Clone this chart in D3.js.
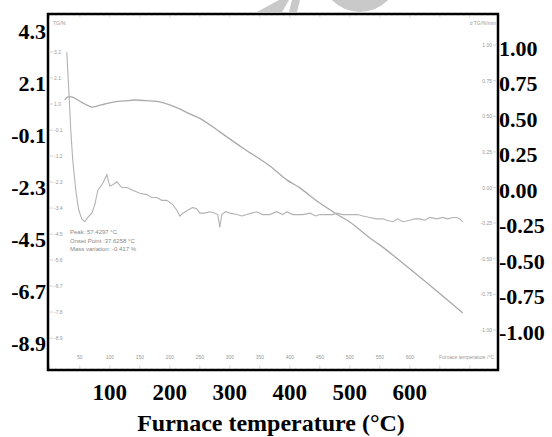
<!DOCTYPE html>
<html>
<head>
<meta charset="utf-8">
<script src="https://cdn.jsdelivr.net/npm/d3@7"></script>
<style>
  body { margin: 0; background: #fff; }
  svg { display: block; }
  .big { font-family: "Liberation Serif", "Times New Roman", serif; font-weight: bold; font-size: 22px; fill: #000; }
  .tiny { font-family: "Liberation Sans", Arial, sans-serif; font-size: 5px; fill: #999; }
</style>
</head>
<body>
<svg></svg>
<script>
var width = 552;
var height = 437;

// outer (redrawn) tick labels
var bottomTicks = [100, 200, 300, 400, 500, 600];
var leftTicks = [4.3, 2.1, -0.1, -2.3, -4.5, -6.7, -8.9];
var rightTicks = [1.00, 0.75, 0.50, 0.25, 0.00, -0.25, -0.50, -0.75, -1.00];

// inner instrument plot tick labels
var innerXTicks = [50, 100, 150, 200, 250, 300, 350, 400, 450, 500, 550, 600];
var innerLeftTicks = [3.2, 2.1, 1.0, -0.1, -1.2, -2.3, -3.4, -4.5, -5.6, -6.7, -7.8, -8.9];
var innerRightTicks = [1.00, 0.75, 0.50, 0.25, 0.00, -0.25, -0.50, -0.75, -1.00];

// TG curve (mass %)
var tgTemp = [25, 30, 36.7, 46.7, 58.3, 70, 80, 91.7, 108.3, 125, 141.7, 166.7, 183.3, 200, 216.7, 233.3, 255,
              283.3, 321.7, 366.7, 395, 416.7, 450, 483.3, 500, 533.3, 550, 616.7, 688.3];
var tgMass = [1.17, 1.30, 1.30, 1.17, 1.00, 0.87, 0.92, 1.00, 1.09, 1.13, 1.17, 1.13, 1.09, 0.96, 0.79, 0.58, 0.32,
              -0.18, -0.86, -1.62, -2.21, -2.55, -3.19, -3.74, -3.99, -4.67, -4.96, -6.32, -7.84];

// dTG curve (%/min)
var dtgTemp = [28.3, 31.7, 35, 38.3, 43.3, 48.3, 53.3, 58.3, 63.3, 70, 75, 80, 88.3, 95, 100, 105, 111.7, 120, 128.3,
               138.3, 150, 161.7, 170, 178.3, 186.7, 195, 205, 211.7, 216.7, 221.7, 230, 238.3, 245, 250, 258.3,
               266.7, 275, 280, 283.3, 286.7, 293.3, 300, 311.7, 320, 328.3, 336.7, 345, 355, 366.7, 378.3, 388.3,
               395, 405, 413.3, 421.7, 433.3, 443.3, 450, 461.7, 471.7, 478.3, 488.3, 496.7, 505, 513.3, 521.7,
               533.3, 545, 555, 561.7, 571.7, 580, 588.3, 600, 608.3, 616.7, 625, 633.3, 645, 655, 663.3, 671.7,
               678.3, 683.3, 688.3];
var dtgRate = [0.95, 0.68, 0.40, 0.19, -0.02, -0.16, -0.22, -0.24, -0.21, -0.18, -0.12, -0.02, 0.03, 0.09, 0.01, 0.02,
               0.04, 0.00, 0.00, -0.02, -0.04, -0.05, -0.07, -0.07, -0.09, -0.09, -0.12, -0.16, -0.20, -0.18, -0.16,
               -0.14, -0.15, -0.18, -0.18, -0.17, -0.18, -0.19, -0.28, -0.19, -0.17, -0.18, -0.19, -0.20, -0.19,
               -0.18, -0.17, -0.19, -0.19, -0.17, -0.19, -0.17, -0.19, -0.19, -0.19, -0.18, -0.20, -0.19, -0.19,
               -0.19, -0.18, -0.19, -0.19, -0.19, -0.19, -0.20, -0.21, -0.22, -0.22, -0.23, -0.24, -0.22, -0.24,
               -0.23, -0.22, -0.22, -0.23, -0.21, -0.22, -0.21, -0.22, -0.21, -0.21, -0.22, -0.24];

var notes = ["Peak :57.4297 \u00B0C", "Onset Point :37.6258 \u00B0C", "Mass variation: -0.417 %"];

var frame = {left: 48, top: 14, right: 498, bottom: 370};

var x = d3.scaleLinear().domain([-3, 747]).range([frame.left, frame.right]);
var yLeft = d3.scaleLinear().domain([4.3, -8.9]).range([31, 343]);
var yRight = d3.scaleLinear().domain([1, -1]).range([48, 332]);
var yTG = d3.scaleLinear().domain([3.2, -8.9]).range([52, 338]);
var yDTG = d3.scaleLinear().domain([1, -1]).range([45, 330]);

var svg = d3.select("svg")
              .attr("width", width)
              .attr("height", height);

// watermark shapes at the top
var mark = svg.append("g").attr("fill", "#c9c9c9");
mark.append("path").attr("d", "M257,12 L279,0 L289,0 L282,12 Z");
mark.append("path").attr("d", "M289,12 L292,0 L300,0 L297,12 Z");
mark.append("path")
    .attr("d", d3.arc().innerRadius(0).outerRadius(39).startAngle(Math.PI / 2).endAngle(Math.PI * 1.5)())
    .attr("transform", "translate(360,-27)");

// inner instrument axes (faint)
var inner = svg.append("g").attr("class", "inner");

var minor = d3.range(0, 741, 10);
inner.selectAll(".bt")
    .data(minor)
  .enter().append("line")
    .attr("x1", d => x(d)).attr("x2", d => x(d))
    .attr("y1", d => frame.bottom - (d % 50 === 0 ? 5 : 2))
    .attr("y2", frame.bottom)
    .attr("stroke", "#bbb").attr("stroke-width", 0.6);

inner.selectAll(".tt")
    .data(minor)
  .enter().append("line")
    .attr("x1", d => x(d)).attr("x2", d => x(d))
    .attr("y1", frame.top)
    .attr("y2", d => frame.top + (d % 50 === 0 ? 4 : 2))
    .attr("stroke", "#ccc").attr("stroke-width", 0.6);

inner.selectAll(".xl")
    .data(innerXTicks)
  .enter().append("text")
    .classed("tiny", true)
    .attr("x", d => x(d))
    .attr("y", 359)
    .attr("text-anchor", "middle")
    .text(d => d);

inner.append("text")
    .classed("tiny", true)
    .attr("x", 494).attr("y", 359)
    .attr("text-anchor", "end")
    .text("Furnace temperature /\u00B0C");

inner.selectAll(".yl")
    .data(innerLeftTicks)
  .enter().append("text")
    .classed("tiny", true)
    .attr("x", 54)
    .attr("y", d => yTG(d) + 2)
    .text(d => d.toFixed(1));

inner.selectAll(".ylt")
    .data(innerLeftTicks)
  .enter().append("line")
    .attr("x1", 50).attr("x2", 53)
    .attr("y1", d => yTG(d)).attr("y2", d => yTG(d))
    .attr("stroke", "#bbb").attr("stroke-width", 0.6);

inner.append("text")
    .classed("tiny", true)
    .attr("x", 53).attr("y", 25)
    .text("TG/%");

inner.selectAll(".yr")
    .data(innerRightTicks)
  .enter().append("text")
    .classed("tiny", true)
    .attr("x", 492)
    .attr("y", d => yDTG(d) + 2)
    .attr("text-anchor", "end")
    .text(d => d.toFixed(2));

inner.selectAll(".yrt")
    .data(innerRightTicks)
  .enter().append("line")
    .attr("x1", 493).attr("x2", 496)
    .attr("y1", d => yDTG(d)).attr("y2", d => yDTG(d))
    .attr("stroke", "#bbb").attr("stroke-width", 0.6);

inner.append("text")
    .classed("tiny", true)
    .attr("x", 496).attr("y", 25)
    .attr("text-anchor", "end")
    .text("d TG/%/min");

inner.selectAll(".note")
    .data(notes)
  .enter().append("text")
    .classed("tiny", true)
    .style("font-size", "6px")
    .style("fill", "#888")
    .attr("x", 70)
    .attr("y", (d, i) => 234 + i * 8.5)
    .text(d => d);

// curves
var tgLine = d3.line()
    .x((d, i) => x(tgTemp[i]))
    .y(d => yTG(d))
    .curve(d3.curveCatmullRom);

var dtgLine = d3.line()
    .x((d, i) => x(dtgTemp[i]))
    .y(d => yDTG(d))
    .curve(d3.curveLinear);

svg.append("path")
    .attr("d", tgLine(tgMass))
    .attr("fill", "none")
    .attr("stroke", "#aaa")
    .attr("stroke-width", 1.3);

svg.append("path")
    .attr("d", dtgLine(dtgRate))
    .attr("fill", "none")
    .attr("stroke", "#b3b3b3")
    .attr("stroke-width", 1.1);

// frame
svg.append("rect")
    .attr("x", frame.left).attr("y", frame.top)
    .attr("width", frame.right - frame.left)
    .attr("height", frame.bottom - frame.top)
    .attr("fill", "none")
    .attr("stroke", "#000")
    .attr("stroke-width", 2.5);

// outer bold labels
svg.selectAll(".lt")
    .data(leftTicks)
  .enter().append("text")
    .classed("big", true)
    .attr("x", 46)
    .attr("y", d => yLeft(d))
    .attr("dy", "0.35em")
    .attr("text-anchor", "end")
    .text(d => d.toFixed(1));

svg.selectAll(".rt")
    .data(rightTicks)
  .enter().append("text")
    .classed("big", true)
    .attr("x", 499)
    .attr("y", d => yRight(d))
    .attr("dy", "0.35em")
    .text(d => d.toFixed(2));

svg.selectAll(".bt2")
    .data(bottomTicks)
  .enter().append("text")
    .classed("big", true)
    .style("font-size", "23px")
    .attr("x", d => x(d))
    .attr("y", 400)
    .attr("text-anchor", "middle")
    .text(d => d);

svg.append("text")
    .classed("big", true)
    .style("font-size", "24px")
    .attr("x", 271)
    .attr("y", 431)
    .attr("text-anchor", "middle")
    .text("Furnace temperature (\u00B0C)");
</script>
</body>
</html>
